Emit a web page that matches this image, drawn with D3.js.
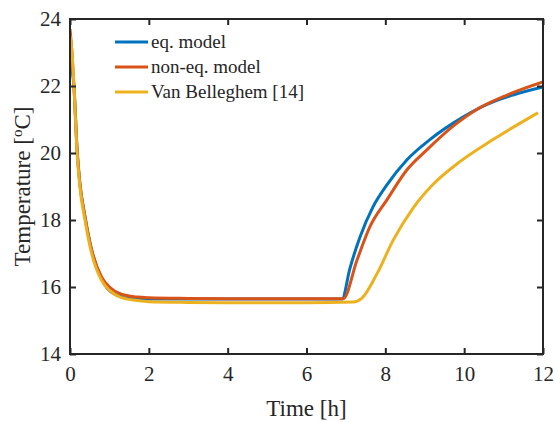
<!DOCTYPE html>
<html>
<head>
<meta charset="utf-8">
<script src="https://cdn.jsdelivr.net/npm/d3@7"></script>
<style>
  body { margin: 0; background: #fff; }
  svg text { font-family: "Liberation Serif", "Times New Roman", "DejaVu Serif", serif; fill: #262626; }
</style>
</head>
<body>
<div id="chart"></div>
<script>
// time [h] and temperature [C]
const eqTime = [0, 0.05, 0.1, 0.18, 0.25, 0.38, 0.55, 0.8, 0.95, 1.2, 1.5, 2, 3, 4, 5, 6, 6.9,
  7.1, 7.36, 7.69, 8.04, 8.55, 9.13, 9.97, 10.58, 11.24, 12];
const eqTemp = [22.8, 22.5, 22.0, 20.1, 19.1, 18.1, 17.1, 16.25, 15.95, 15.75, 15.66, 15.64, 15.64, 15.64, 15.64, 15.64, 15.64,
  16.55, 17.5, 18.4, 19.05, 19.8, 20.4, 21.07, 21.45, 21.73, 21.97];

const neqTime = [0, 0.05, 0.1, 0.18, 0.25, 0.38, 0.55, 0.8, 1.0, 1.27, 1.7, 2, 3, 4, 5, 6, 6.93,
  7.28, 7.61, 8.04, 8.55, 9.06, 9.72, 10.32, 11.09, 12];
const neqTemp = [23.7, 23.0, 22.0, 20.1, 19.1, 18.1, 17.1, 16.3, 16.0, 15.8, 15.7, 15.68, 15.66, 15.65, 15.65, 15.65, 15.65,
  16.8, 17.8, 18.6, 19.5, 20.1, 20.8, 21.3, 21.73, 22.12];

const vbTime = [0, 0.05, 0.1, 0.18, 0.25, 0.38, 0.55, 0.8, 1.0, 1.27, 1.7, 2, 3, 4, 5, 6, 7.18, 7.4,
  7.79, 8.2, 8.7, 9.2, 9.9, 10.73, 11.87];
const vbTemp = [23.5, 23.0, 22.0, 20.0, 19.0, 18.0, 17.0, 16.2, 15.9, 15.7, 15.6, 15.56, 15.54, 15.53, 15.53, 15.53, 15.55, 15.66,
  16.4, 17.4, 18.35, 19.05, 19.75, 20.4, 21.2];

const seriesNames = ['eq. model', 'non-eq. model', 'Van Belleghem [14]'];
const seriesColors = ['#0072BD', '#D95319', '#EDB120'];
const xTicks = [0, 2, 4, 6, 8, 10, 12];
const yTicks = [14, 16, 18, 20, 22, 24];

const W = 555, H = 423;
const margin = {left: 70, right: 12, top: 19, bottom: 69};
const iw = W - margin.left - margin.right;
const ih = H - margin.top - margin.bottom;
const FONT = '"Liberation Serif", "Times New Roman", "DejaVu Serif", serif';

const svg = d3.select('#chart').append('svg')
  .attr('width', W).attr('height', H)
  .attr('font-family', FONT);
const g = svg.append('g')
  .attr('transform', `translate(${margin.left},${margin.top})`);

const x = d3.scaleLinear().domain([0, 12]).range([0, iw]);
const y = d3.scaleLinear().domain([14, 24]).range([ih, 0]);

const series = [
  {name: seriesNames[0], color: seriesColors[0], pts: eqTime.map((t, i) => [t, eqTemp[i]])},
  {name: seriesNames[1], color: seriesColors[1], pts: neqTime.map((t, i) => [t, neqTemp[i]])},
  {name: seriesNames[2], color: seriesColors[2], pts: vbTime.map((t, i) => [t, vbTemp[i]])}
];

const line = d3.line()
  .x(d => x(d[0]))
  .y(d => y(d[1]))
  .curve(d3.curveMonotoneX);

g.append('defs').append('clipPath').attr('id', 'clip')
  .append('rect').attr('width', iw).attr('height', ih);

g.append('g').attr('clip-path', 'url(#clip)')
  .selectAll('path')
  .data(series)
  .join('path')
  .attr('d', d => line(d.pts))
  .attr('fill', 'none')
  .attr('stroke', d => d.color)
  .attr('stroke-width', 3)
  .attr('stroke-linejoin', 'round');

// axes with inward ticks
const styleAxis = sel => {
  sel.attr('font-family', FONT);
  sel.select('.domain').remove();
  sel.selectAll('line').attr('stroke', '#262626').attr('stroke-width', 2);
  sel.selectAll('text')
    .attr('font-family', FONT)
    .style('font-size', '21px')
    .attr('fill', '#262626');
};

g.append('g')
  .attr('transform', `translate(0,${ih})`)
  .call(d3.axisBottom(x).tickValues(xTicks).tickSize(-6).tickPadding(12).tickFormat(d3.format('d')))
  .call(styleAxis);
g.append('g')
  .call(d3.axisTop(x).tickValues(xTicks).tickSize(-6).tickFormat(''))
  .call(styleAxis);
g.append('g')
  .call(d3.axisLeft(y).tickValues(yTicks).tickSize(-6).tickPadding(9).tickFormat(d3.format('d')))
  .call(styleAxis);
g.append('g')
  .attr('transform', `translate(${iw},0)`)
  .call(d3.axisRight(y).tickValues(yTicks).tickSize(-6).tickFormat(''))
  .call(styleAxis);

g.append('rect')
  .attr('width', iw).attr('height', ih)
  .attr('fill', 'none')
  .attr('stroke', '#262626')
  .attr('stroke-width', 2);

// axis titles
svg.append('text')
  .attr('x', margin.left + iw / 2)
  .attr('y', 416)
  .attr('text-anchor', 'middle')
  .style('font-size', '23px')
  .text('Time [h]');

const yl = svg.append('text')
  .attr('transform', `translate(30,${margin.top + ih / 2}) rotate(-90)`)
  .attr('text-anchor', 'middle')
  .style('font-size', '23px');
yl.append('tspan').text('Temperature [');
yl.append('tspan').attr('dy', -8).style('font-size', '15px').text('o');
yl.append('tspan').attr('dy', 8).text('C]');

// legend
const leg = svg.append('g');
series.forEach((s, i) => {
  const ly = 42 + i * 25;
  leg.append('line')
    .attr('x1', 115).attr('x2', 148)
    .attr('y1', ly).attr('y2', ly)
    .attr('stroke', s.color).attr('stroke-width', 3);
  leg.append('text')
    .attr('x', 151).attr('y', ly + 6)
    .style('font-size', '19px')
    .text(s.name);
});
</script>
</body>
</html>
